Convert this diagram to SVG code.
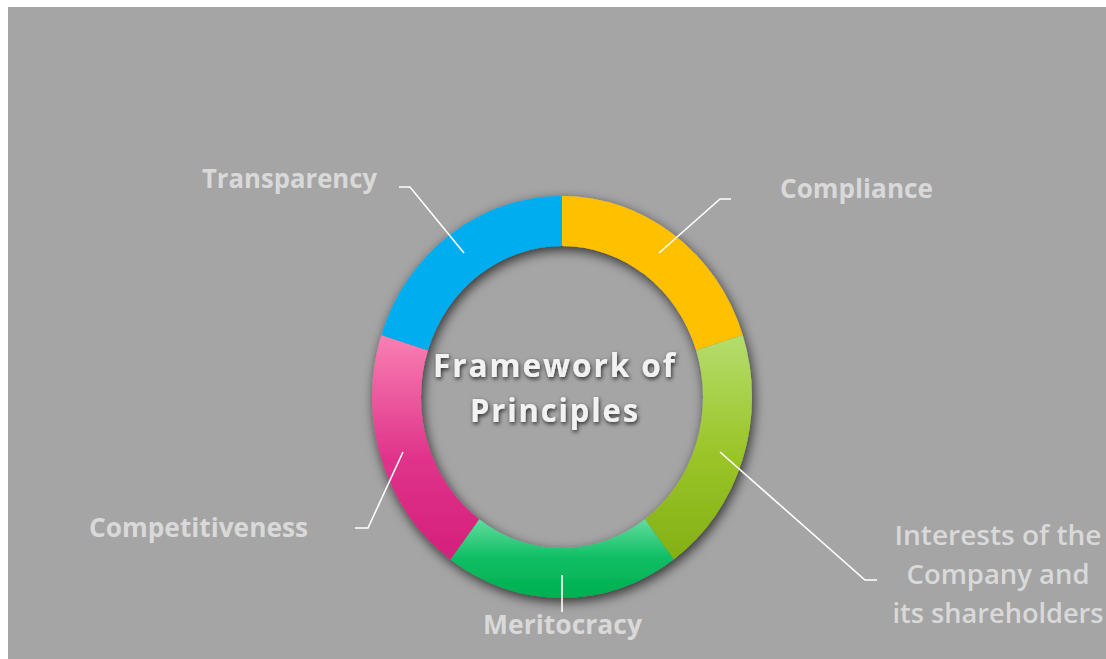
<svg xmlns="http://www.w3.org/2000/svg" width="1106" height="659" viewBox="0 0 1106 659">
  <style>
    .lbl { font-family: "Open Sans", "Liberation Sans", sans-serif; font-weight: 700; font-size: 27px; fill: #D9D9D9; }
    .lbl2 { font-family: "Open Sans", "Liberation Sans", sans-serif; font-weight: 600; font-size: 27px; fill: #D9D9D9; }
    .title { font-family: "Open Sans", "Liberation Sans", sans-serif; font-weight: 700; font-size: 33px; fill: #F2F2F2; }
    .conn { fill: none; stroke: #FFFFFF; stroke-width: 1.6; }
  </style>
  <defs>
    <linearGradient id="gGreen" x1="0" y1="0" x2="0" y2="1">
      <stop offset="0" stop-color="#B5DD6E"/>
      <stop offset="0.5" stop-color="#9CC62A"/>
      <stop offset="1" stop-color="#84B015"/>
    </linearGradient>
    <linearGradient id="gTeal" x1="0" y1="0" x2="0" y2="1">
      <stop offset="0" stop-color="#62DC9E"/>
      <stop offset="0.5" stop-color="#0DBE63"/>
      <stop offset="1" stop-color="#00B050"/>
    </linearGradient>
    <linearGradient id="gPink" x1="0" y1="0" x2="0" y2="1">
      <stop offset="0" stop-color="#F880B3"/>
      <stop offset="0.55" stop-color="#E0338A"/>
      <stop offset="1" stop-color="#D4207C"/>
    </linearGradient>
    <filter id="ringShadow" x="-20%" y="-20%" width="140%" height="140%">
      <feDropShadow dx="2" dy="4" stdDeviation="6" flood-color="#000000" flood-opacity="0.7"/>
    </filter>
    <filter id="textShadow" x="-10%" y="-30%" width="120%" height="160%">
      <feDropShadow dx="1" dy="2" stdDeviation="2" flood-color="#000000" flood-opacity="0.75"/>
    </filter>
  </defs>

  <rect x="8" y="7" width="1098" height="652" fill="#A5A5A5"/>

  <g id="ring" filter="url(#ringShadow)">
    <g id="seg-compliance">
      <path d="M562,196 A190,201 0 0 1 742.7,334.9 L696.1,350.3 A141,151 0 0 0 562,246 Z" fill="#FFC000"/>
    </g>
    <g id="seg-interests">
      <path d="M742.7,334.9 A190,201 0 0 1 673.7,559.6 L644.9,519.2 A141,151 0 0 0 696.1,350.3 Z" fill="url(#gGreen)"/>
    </g>
    <g id="seg-meritocracy">
      <path d="M673.7,559.6 A190,201 0 0 1 450.3,559.6 L479.1,519.2 A141,151 0 0 0 644.9,519.2 Z" fill="url(#gTeal)"/>
    </g>
    <g id="seg-competitiveness">
      <path d="M450.3,559.6 A190,201 0 0 1 381.3,334.9 L427.9,350.3 A141,151 0 0 0 479.1,519.2 Z" fill="url(#gPink)"/>
    </g>
    <g id="seg-transparency">
      <path d="M381.3,334.9 A190,201 0 0 1 562,196 L562,246 A141,151 0 0 0 427.9,350.3 Z" fill="#00AEEF"/>
    </g>
  </g>

  <g id="center">
    <g filter="url(#textShadow)">
      <text class="title" x="555" y="377" text-anchor="middle" letter-spacing="2" textLength="244" lengthAdjust="spacingAndGlyphs">Framework of</text>
      <text class="title" x="555" y="422" text-anchor="middle" letter-spacing="2" textLength="170" lengthAdjust="spacingAndGlyphs">Principles</text>
    </g>
  </g>

  <g id="connectors">
    <polyline class="conn" points="399,187 410,187 464,253"/>
    <polyline class="conn" points="731,199 720,199 659,253"/>
    <polyline class="conn" points="720,452 865,580 877,580"/>
    <polyline class="conn" points="562,575 562,612"/>
    <polyline class="conn" points="403,452 368,528 355,528"/>
  </g>

  <g id="label-transparency">
    <text class="lbl" x="202" y="188" textLength="175" lengthAdjust="spacingAndGlyphs">Transparency</text>
  </g>
  <g id="label-compliance">
    <text class="lbl" x="780" y="198" textLength="153" lengthAdjust="spacingAndGlyphs">Compliance</text>
  </g>
  <g id="label-interests">
    <text class="lbl2" x="998" y="545" text-anchor="middle" textLength="207" lengthAdjust="spacingAndGlyphs">Interests of the</text>
    <text class="lbl2" x="998" y="584" text-anchor="middle" textLength="183" lengthAdjust="spacingAndGlyphs">Company and</text>
    <text class="lbl2" x="998" y="623" text-anchor="middle" textLength="211" lengthAdjust="spacingAndGlyphs">its shareholders</text>
  </g>
  <g id="label-meritocracy">
    <text class="lbl" x="483" y="634" textLength="159" lengthAdjust="spacingAndGlyphs">Meritocracy</text>
  </g>
  <g id="label-competitiveness">
    <text class="lbl" x="89" y="537" textLength="219" lengthAdjust="spacingAndGlyphs">Competitiveness</text>
  </g>
</svg>
